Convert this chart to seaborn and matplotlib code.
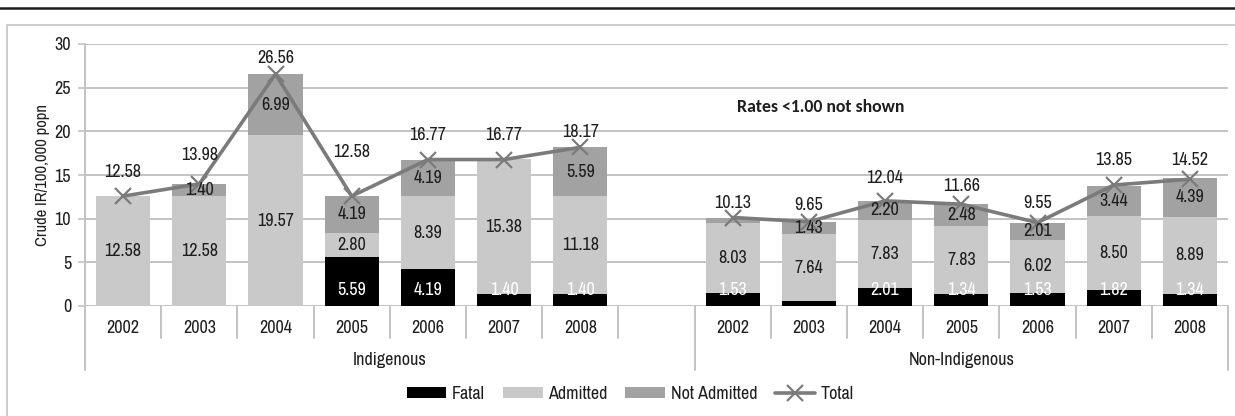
import matplotlib
matplotlib.use("Agg")
import matplotlib.pyplot as plt
import matplotlib.transforms as mtransforms
from matplotlib.lines import Line2D
from matplotlib.patches import Patch
import numpy as np
import pandas as pd
import seaborn as sns

# ---- data: crude injury rates per 100,000 population ----
years = ["2002", "2003", "2004", "2005", "2006", "2007", "2008"]
groups = ["Indigenous", "Non-Indigenous"]

indig_fatal = [0.00, 0.00, 0.00, 5.59, 4.19, 1.40, 1.40]
indig_admitted = [12.58, 12.58, 19.57, 2.80, 8.39, 15.38, 11.18]
indig_not_admitted = [0.00, 1.40, 6.99, 4.19, 4.19, 0.00, 5.59]
indig_total = [12.58, 13.98, 26.56, 12.58, 16.77, 16.77, 18.17]

nonind_fatal = [1.53, 0.58, 2.01, 1.34, 1.53, 1.82, 1.34]
nonind_admitted = [8.03, 7.64, 7.83, 7.83, 6.02, 8.50, 8.89]
nonind_not_admitted = [0.57, 1.43, 2.20, 2.48, 2.01, 3.44, 4.39]
nonind_total = [10.13, 9.65, 12.04, 11.66, 9.55, 13.85, 14.52]

series_names = ["Fatal", "Admitted", "Not Admitted", "Total"]
note_text = "Rates <1.00 not shown"
y_label = "Crude IR/100,000 popn"

# vertical gap (points) between each Total marker and its label
indig_total_label_gap = [17.3, 20.9, 11.5, 31.7, 18.0, 18.0, 10.8]
nonind_total_label_gap = [10.8, 12.2, 16.6, 13.0, 14.4, 18.0, 13.7]

# ---- styling ----
C_FATAL = "#000000"
C_ADMIT = "#c9c9c9"
C_NOTADM = "#a2a2a2"
C_TOTAL = "#7b7b7b"
C_GRID = "#c3c3c3"
C_TEXT = "#1e1e1e"
FS = 13

sns.set_theme(style="white")
plt.rcParams["font.family"] = ["Archivo Narrow", "DejaVu Sans"]
plt.rcParams["font.size"] = FS

# ---- tidy table; one empty slot separates the two groups ----
n = len(years)
rows = []
for gi, (g, fa, ad, na, tot, gap) in enumerate([
    ("Indigenous", indig_fatal, indig_admitted, indig_not_admitted, indig_total,
     indig_total_label_gap),
    ("Non-Indigenous", nonind_fatal, nonind_admitted, nonind_not_admitted, nonind_total,
     nonind_total_label_gap),
]):
    for i, yr in enumerate(years):
        rows.append(dict(group=g, year=yr, pos=gi * (n + 1) + i,
                         fatal=fa[i], admitted=ad[i], not_admitted=na[i],
                         total=tot[i], gap=gap[i]))
df = pd.DataFrame(rows)
df["cum1"] = df["fatal"]
df["cum2"] = df["fatal"] + df["admitted"]
df["cum3"] = df["cum2"] + df["not_admitted"]
n_slots = 2 * n + 1

W, H = 1235, 416
fig = plt.figure(figsize=(W / 100, H / 100), dpi=100)
ax = fig.add_axes([85 / W, (H - 306) / H, (1228 - 85) / W, (306 - 44) / H])

# stacked bars: draw cumulative heights from the top layer down
bar_kw = dict(native_scale=True, width=0.71, errorbar=None, saturation=1,
              linewidth=0, zorder=2, ax=ax)
sns.barplot(data=df, x="pos", y="cum3", color=C_NOTADM, **bar_kw)
sns.barplot(data=df, x="pos", y="cum2", color=C_ADMIT, **bar_kw)
sns.barplot(data=df, x="pos", y="cum1", color=C_FATAL, **bar_kw)

# total line, one segment per group
sns.lineplot(data=df, x="pos", y="total", units="group", estimator=None,
             color=C_TOTAL, linewidth=2.6, marker="x", markersize=11,
             markeredgewidth=1.6, markeredgecolor=C_TOTAL, zorder=4, ax=ax,
             legend=False)

# ---- axes ----
ax.set_xlim(-0.5, n_slots - 0.5)
ax.set_ylim(0, 30)
ax.set_yticks(np.arange(0, 31, 5))
ax.set_xticks([])
ax.set_xlabel("")
ax.set_ylabel(y_label, fontsize=12, color=C_TEXT, labelpad=3)
ax.tick_params(axis="y", which="both", left=True, length=5, width=1.2,
               color=C_GRID, labelsize=FS, labelcolor=C_TEXT, pad=5)
for s in ax.spines.values():
    s.set_visible(False)
ax.yaxis.grid(True, color=C_GRID, linewidth=1.4, zorder=0)
ax.set_axisbelow(True)

trans = mtransforms.blended_transform_factory(ax.transData, ax.transAxes)
line_kw = dict(color=C_GRID, linewidth=1.4, transform=trans, clip_on=False)

# y axis line extending into the category area
ax.add_line(Line2D([-0.5, -0.5], [-0.245, 1.0], **line_kw))
# slot separators and group boundaries
for k in range(1, n_slots):
    if k == n + 1:
        continue
    ax.add_line(Line2D([k - 0.5, k - 0.5], [0, -0.122], **line_kw))
for b in [n + 0.5, n_slots - 0.5]:
    ax.add_line(Line2D([b, b], [0, -0.245], **line_kw))

# category labels
for _, r in df.iterrows():
    ax.text(r["pos"], -0.083, r["year"], transform=trans, ha="center",
            va="center", fontsize=FS, color=C_TEXT)
ax.text(n / 2, -0.205, groups[0], transform=trans, ha="center", va="center",
        fontsize=FS, color=C_TEXT)
ax.text(n + 0.5 + n / 2, -0.205, groups[1], transform=trans, ha="center",
        va="center", fontsize=FS, color=C_TEXT)

# ---- value labels (rates below 1.00 omitted) ----
for _, r in df.iterrows():
    x = r["pos"]
    if r["fatal"] >= 1:
        ax.annotate(f"{r['fatal']:.2f}", (x, 0), xytext=(0, 11.5),
                    textcoords="offset points", ha="center", va="center",
                    color="white", fontsize=FS, zorder=6)
    if r["admitted"] >= 1:
        ax.text(x, r["fatal"] + r["admitted"] / 2, f"{r['admitted']:.2f}",
                ha="center", va="center", color=C_TEXT, fontsize=FS, zorder=6)
    if r["not_admitted"] >= 1:
        ax.text(x, r["cum2"] + r["not_admitted"] / 2, f"{r['not_admitted']:.2f}",
                ha="center", va="center", color=C_TEXT, fontsize=FS, zorder=6)
    ax.annotate(f"{r['total']:.2f}", (x, r["total"]), xytext=(0, r["gap"]),
                textcoords="offset points", ha="center", va="center",
                color=C_TEXT, fontsize=FS, zorder=6)

ax.text(9.15, 22.8, note_text, ha="center", va="center", fontsize=12.8,
        fontweight="bold", family=["Carlito", "Lato", "DejaVu Sans"], color=C_TEXT)

# ---- legend ----
handles = [
    Patch(facecolor=C_FATAL, edgecolor="none"),
    Patch(facecolor=C_ADMIT, edgecolor="none"),
    Patch(facecolor=C_NOTADM, edgecolor="none"),
    Line2D([], [], color=C_TOTAL, linewidth=2.6, marker="x", markersize=11,
           markeredgewidth=1.6),
]
fig.legend(handles, series_names, loc="center", bbox_to_anchor=(630 / W, 1 - 394 / H),
           ncol=4, frameon=False, fontsize=FS, handlelength=2.2, handleheight=0.5,
           handletextpad=0.3, columnspacing=1.0, labelcolor=C_TEXT)

# ---- frame decorations ----
fig.add_artist(Line2D([0, 1], [1 - 7.5 / H, 1 - 7.5 / H], color="#1a1a1a",
                      linewidth=1.8, transform=fig.transFigure))
fig.add_artist(Line2D([7 / W, 7 / W, 1], [0, 1 - 25 / H, 1 - 25 / H],
                      color="#c8c8c8", linewidth=1.3, transform=fig.transFigure))

fig.savefig("out.png", dpi=100)
